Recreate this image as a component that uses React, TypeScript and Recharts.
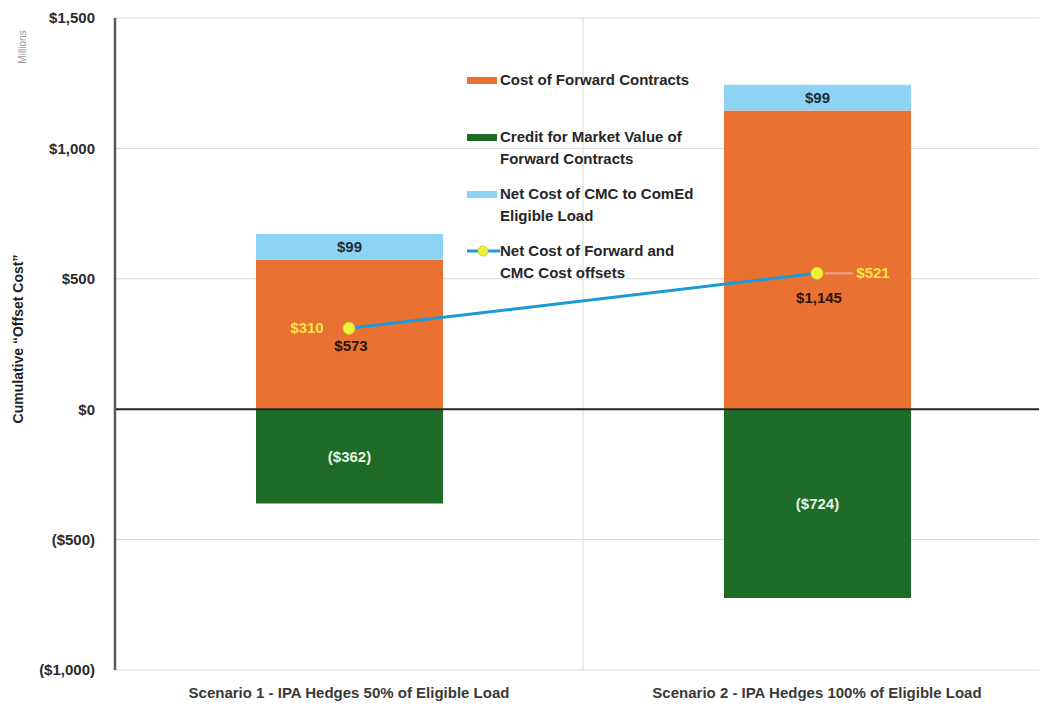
import React from "react";
import {
  ComposedChart,
  Bar,
  Line,
  XAxis,
  YAxis,
  CartesianGrid,
  ReferenceLine,
  LabelList,
} from "recharts";

const scenarios = [
  "Scenario 1 - IPA Hedges 50% of Eligible Load",
  "Scenario 2 - IPA Hedges 100% of Eligible Load",
];
const forwardCost = [573, 1145];
const marketCredit = [-362, -724];
const cmcNetCost = [99, 99];
const netOffset = [310, 521];
const yTicks = [-1000, -500, 0, 500, 1000, 1500];

const seriesNames = [
  "Cost of Forward Contracts",
  "Credit for Market Value of Forward Contracts",
  "Net Cost of CMC to ComEd Eligible Load",
  "Net Cost of Forward and CMC Cost offsets",
];
const legendLines = [
  ["Cost of Forward Contracts"],
  ["Credit for Market Value of", "Forward Contracts"],
  ["Net Cost of CMC to ComEd", "Eligible Load"],
  ["Net Cost of Forward and", "CMC Cost offsets"],
];

const data = scenarios.map((name, i) => ({
  name,
  forward: forwardCost[i],
  credit: marketCredit[i],
  cmc: cmcNetCost[i],
  net: netOffset[i],
}));

const ORANGE = "#E97132";
const GREEN = "#1E6B27";
const LIGHTBLUE = "#8DD3F3";
const LINEBLUE = "#1D9AD5";
const DOT = "#F0F03A";
const YELLOW_TXT = "#FFE24A";
const FONT = "'Liberation Sans Narrow', 'Liberation Sans', Arial, sans-serif";

const nf = new Intl.NumberFormat("en-US");
const money = (v: number) =>
  v < 0 ? `($${nf.format(Math.abs(v))})` : `$${nf.format(v)}`;

const colors = [ORANGE, GREEN, LIGHTBLUE, LINEBLUE];

// legend drawn as an overlay inside the plot area
const LegendBox = () => (
  <div
    style={{
      position: "absolute",
      left: 467,
      top: 69,
      fontFamily: FONT,
      fontWeight: 700,
      fontSize: 15,
      color: "#262626",
    }}
  >
    {legendLines.map((lines, i) => (
      <div key={i} style={{ display: "flex", height: 57, alignItems: "flex-start" }}>
        <div style={{ width: 33, height: 22, position: "relative", flexShrink: 0 }}>
          {i < 3 ? (
            <div
              style={{
                position: "absolute",
                left: 0,
                top: 8,
                width: 30,
                height: 7,
                background: colors[i],
              }}
            />
          ) : (
            <svg width={33} height={22} style={{ position: "absolute", left: 0, top: 0 }}>
              <line x1={0} y1={11} x2={33} y2={11} stroke={LINEBLUE} strokeWidth={3} />
              <circle cx={16} cy={11} r={5} fill={DOT} stroke="#c8d62a" />
            </svg>
          )}
        </div>
        <div style={{ lineHeight: "22px" }} title={seriesNames[i]}>
          {lines.map((l, j) => (
            <div key={j}>{l}</div>
          ))}
        </div>
      </div>
    ))}
  </div>
);

const NetLabel = (props: any) => {
  const { x, y, index, value } = props;
  const left = index === 0;
  return (
    <g fontFamily={FONT} fontWeight={700} fontSize={15}>
      {!left && (
        <line x1={x + 8} y1={y} x2={x + 36} y2={y} stroke="#E8A596" strokeWidth={2} />
      )}
      <text
        x={left ? x - 42 : x + 56}
        y={y}
        dy={5}
        textAnchor="middle"
        fill={YELLOW_TXT}
      >
        {money(value)}
      </text>
      <text x={x + 2} y={y + (left ? 18 : 25)} dy={5} textAnchor="middle" fill="#2b1408">
        {money(forwardCost[index])}
      </text>
    </g>
  );
};

export default function App() {
  return (
    <div
      style={{
        position: "absolute",
        left: 0,
        top: 0,
        width: 1039,
        height: 705,
        overflow: "hidden",
        background: "#fff",
      }}
    >
      <ComposedChart
        width={1060}
        height={705}
        data={data}
        stackOffset="sign"
        margin={{ top: 18, right: 9, bottom: 0, left: 0 }}
        style={{ fontFamily: FONT }}
      >
        <CartesianGrid
          stroke="#d9d9d9"
          verticalCoordinatesGenerator={(p: any) => [p.offset.left + p.offset.width / 2]}
        />
        <XAxis
          dataKey="name"
          height={35}
          axisLine={false}
          tickLine={false}
          tickMargin={11}
          interval={0}
          tick={{ fill: "#3a3a3a", fontSize: 15, fontWeight: 700 }}
        />
        <YAxis
          width={115}
          domain={[-1000, 1500]}
          ticks={yTicks}
          tickFormatter={money}
          axisLine={{ stroke: "#5a5a5a", strokeWidth: 2.5 }}
          tickLine={false}
          tickSize={0}
          tickMargin={20}
          tick={{ fill: "#2b2b2b", fontSize: 15, fontWeight: 700 }}
          label={{
            value: "Cumulative \u201cOffset Cost\u201d",
            angle: -90,
            position: "insideLeft",
            offset: 18,
            dy: -5,
            style: { textAnchor: "middle", fontWeight: 700, fontSize: 14, fill: "#1f1f1f" },
          }}
        />
        <ReferenceLine y={0} stroke="#262626" strokeWidth={2} />
        <Bar
          dataKey="forward"
          name={seriesNames[0]}
          stackId="s"
          fill={ORANGE}
          barSize={187}
          isAnimationActive={false}
        />
        <Bar
          dataKey="credit"
          name={seriesNames[1]}
          stackId="s"
          fill={GREEN}
          barSize={187}
          isAnimationActive={false}
        >
          <LabelList
            dataKey="credit"
            position="center"
            formatter={(v: any) => money(v)}
            style={{ fill: "#e6f3e2", fontWeight: 700, fontSize: 15, fontFamily: FONT }}
          />
        </Bar>
        <Bar
          dataKey="cmc"
          name={seriesNames[2]}
          stackId="s"
          fill={LIGHTBLUE}
          barSize={187}
          isAnimationActive={false}
        >
          <LabelList
            dataKey="cmc"
            position="center"
            formatter={(v: any) => money(v)}
            style={{ fill: "#1c2b3a", fontWeight: 700, fontSize: 15, fontFamily: FONT }}
          />
        </Bar>
        <Line
          dataKey="net"
          name={seriesNames[3]}
          type="linear"
          stroke={LINEBLUE}
          strokeWidth={3}
          dot={{ r: 6, fill: DOT, stroke: "#c8d62a", strokeWidth: 1 }}
          isAnimationActive={false}
        >
          <LabelList dataKey="net" content={<NetLabel />} />
        </Line>
      </ComposedChart>
      <LegendBox />
      <div
        style={{
          position: "absolute",
          left: 22,
          top: 47,
          transform: "translate(-50%, -50%) rotate(-90deg)",
          fontFamily: FONT,
          fontSize: 10,
          color: "#9a9a9a",
          whiteSpace: "nowrap",
        }}
      >
        Millions
      </div>
    </div>
  );
}
